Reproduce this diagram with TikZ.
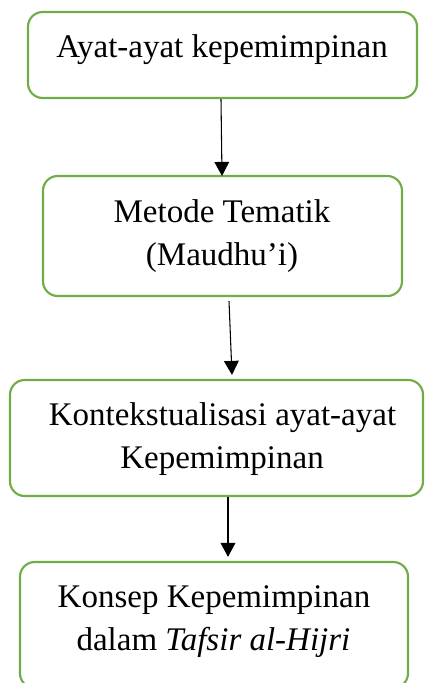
\documentclass[tikz,border=0pt]{standalone}
\usepackage{fontspec}
\setmainfont{Liberation Serif}
\usetikzlibrary{arrows.meta,calc}
\definecolor{boxgreen}{RGB}{112,173,71}
\begin{document}
\begin{tikzpicture}[x=0.75pt,y=-0.75pt,
  stepbox/.style={draw=boxgreen,line width=1.6pt,rounded corners=11pt,fill=white,inner sep=0pt},
  lbl/.style={anchor=base,inner sep=0pt,font=\fontsize{24.75pt}{32pt}\selectfont},
  conn/.style={line width=0.8pt,-{Triangle[width=11pt,length=10.5pt]}}]
\useasboundingbox (0,0) rectangle (425,683);
\node[stepbox,minimum width=291.75pt,minimum height=64.5pt] (b1) at (222.5,55) {};
\node[stepbox,minimum width=269.25pt,minimum height=90pt] (b2) at (222.5,236) {};
\node[stepbox,minimum width=309.75pt,minimum height=87pt] (b3) at (216.5,438) {};
\node[stepbox,minimum width=291pt,minimum height=94.5pt] (b4) at (214,625) {};
\node[lbl] (t1) at (222,57) {Ayat-ayat kepemimpinan};
\node[lbl] (t2a) at (222,222) {Metode Tematik};
\node[lbl] (t2b) at (222,265) {(Maudhu’i)};
\node[lbl] (t3a) at (222.5,425) {Kontekstualisasi ayat-ayat};
\node[lbl] (t3b) at (222,468) {Kepemimpinan};
\node[lbl] (t4a) at (214,607) {Konsep Kepemimpinan};
\node[lbl] (t4b) at (213.5,650) {dalam \textit{Tafsir al-Hijri}};
\draw[conn] ($(b1.south)+(-1.5,0)$) -- ($(b2.north)+(-0.5,1)$);
\draw[conn] ($(b2.south)+(6.5,4)$) -- ($(b3.north)+(15.5,-4)$);
\draw[conn] ($(b3.south)+(11.5,0)$) -- ($(b4.north)+(14,-4)$);
\end{tikzpicture}
\end{document}
